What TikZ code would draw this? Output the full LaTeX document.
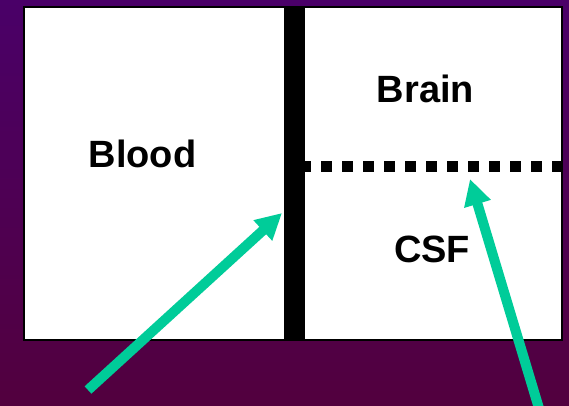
\documentclass[tikz,border=0pt]{standalone}
\usepackage{fontspec}
\setmainfont{Liberation Sans}
\usetikzlibrary{arrows.meta}

\definecolor{bgtop}{RGB}{74,0,104}
\definecolor{bgbottom}{RGB}{82,0,62}
\definecolor{pointer}{RGB}{0,204,153}

\begin{document}
\begin{tikzpicture}[x=1pt, y=-1pt, line width=1pt,
    region/.style={font=\bfseries\fontsize{38}{45}\selectfont, anchor=base},
    pointer/.style={draw=pointer, line width=10pt, -{Triangle[length=26pt, width=26pt]}}]
    \useasboundingbox (0, 0) rectangle (569, 405);
    % background
    \shade [top color=bgtop, bottom color=bgbottom] (0, 0) rectangle (569, 405);

    % compartments
    \draw [fill=white, line width=2.5pt] (24, 7) rectangle (562, 340);
    \fill [black] (284, 7) rectangle (305, 340);
    \draw [line width=11pt, dash pattern=on 11pt off 10pt, dash phase=5pt] (305, 166) -- (561, 166);

    \node [region] (blood) at (142.5, 167) {Blood};
    \node [region] (brain) at (425.5, 102) {Brain};
    \node [region] (csf)   at (432, 262)   {CSF};

    % pointers to the two barriers
    \coordinate (bbb) at (282, 213);
    \coordinate (bcsf) at (470, 179);
    \coordinate (tail1) at (88, 390);
    \coordinate (tail2) at (541, 415);
    \begin{scope}
        \clip (0, 0) rectangle (569, 405);
        \draw [pointer] (tail1) -- (bbb);
        \draw [pointer] (tail2) -- (bcsf);
    \end{scope}
\end{tikzpicture}
\end{document}
